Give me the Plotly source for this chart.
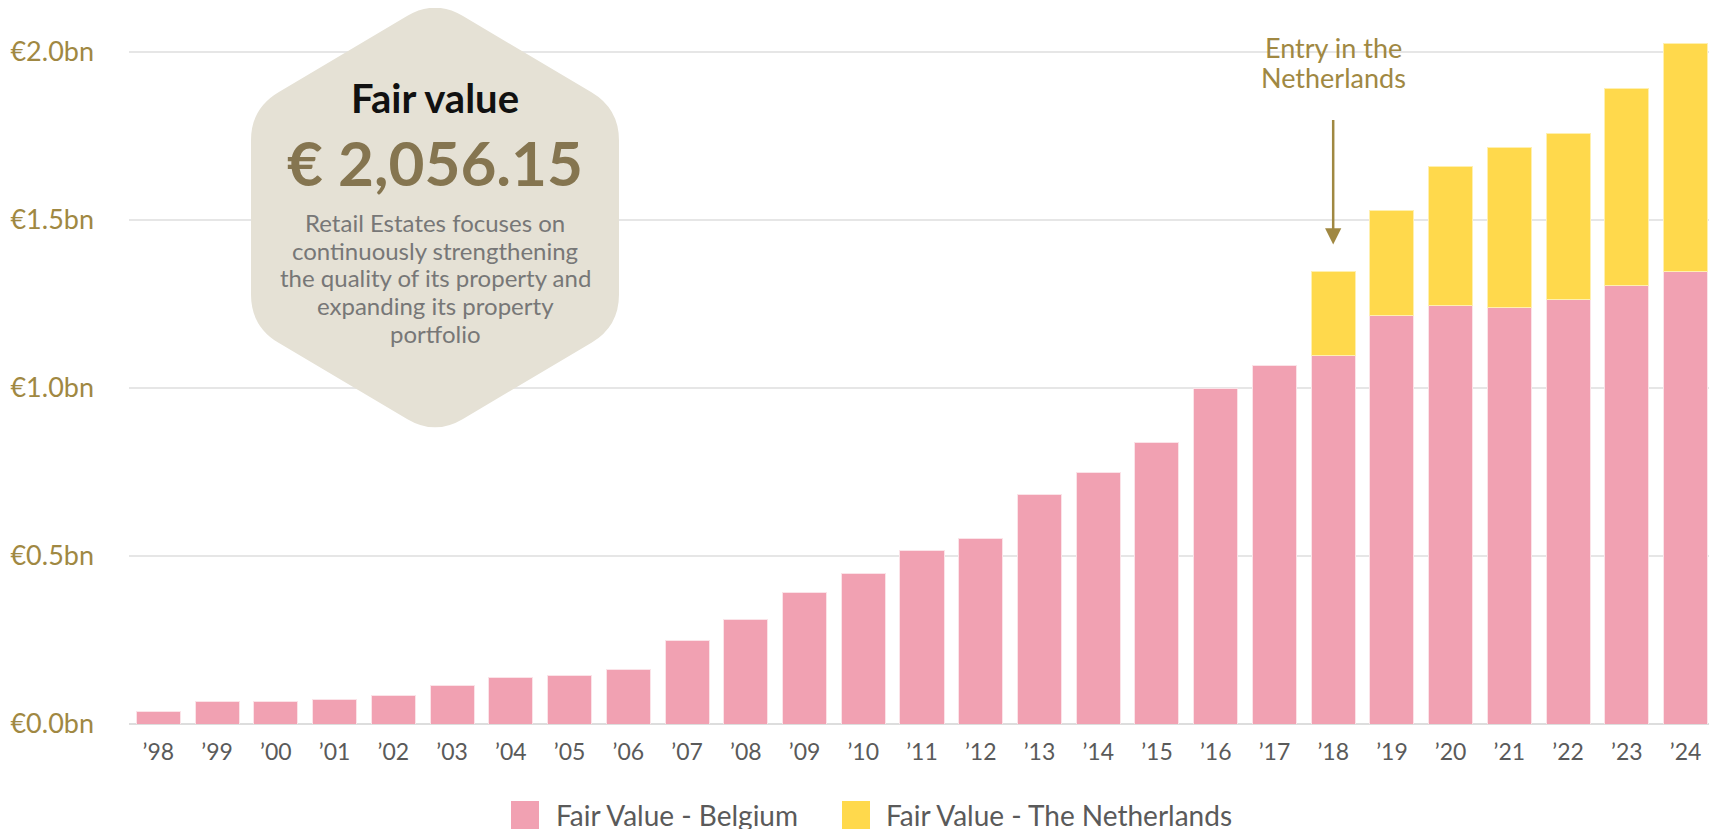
import plotly.graph_objects as go

# data (EUR bn)
years = ["’98", "’99", "’00", "’01", "’02", "’03", "’04", "’05", "’06", "’07",
         "’08", "’09", "’10", "’11", "’12", "’13", "’14", "’15", "’16", "’17",
         "’18", "’19", "’20", "’21", "’22", "’23", "’24"]
belgium = [0.037, 0.067, 0.067, 0.074, 0.085, 0.114, 0.138, 0.144, 0.163, 0.247,
           0.312, 0.390, 0.449, 0.516, 0.551, 0.683, 0.748, 0.837, 0.998, 1.066,
           1.096, 1.215, 1.245, 1.239, 1.263, 1.304, 1.346]
netherlands = [None] * 20 + [0.250, 0.311, 0.412, 0.477, 0.494, 0.585, 0.679]
y_ticks = [0.0, 0.5, 1.0, 1.5, 2.0]
series_names = ["Fair Value - Belgium", "Fair Value - The Netherlands"]

blurb = ["Retail Estates focuses on", "continuously strengthening",
         "the quality of its property and", "expanding its property", "portfolio"]
entry_text = ["Entry in the", "Netherlands"]

PINK = "#F1A1B2"
YELLOW = "#FFD94C"
GOLD = "#A08842"
GREY = "#5a5a5a"
FONT = "Lato"

# figure geometry (pixels); page positions are offset by the 8px body margin
W, H = 1717, 829
L, R, T, B = 121, 10, 10, 113
PW, PH = W - L - R, H - T - B
OFF = 8


def px_x(x):
    return (x - OFF - L) / PW


def px_y(y):
    return (H - B - (y - OFF)) / PH


def rounded_hexagon(cx, cy, hw, rad, corner):
    """SVG path (paper coords) for a pointy-top hexagon with rounded corners."""
    pts = [(cx, cy - rad), (cx + hw, cy - rad / 2), (cx + hw, cy + rad / 2),
           (cx, cy + rad), (cx - hw, cy + rad / 2), (cx - hw, cy - rad / 2)]
    n = len(pts)
    segs = []
    for i in range(n):
        px, py = pts[i]
        ax, ay = pts[i - 1]
        bx, by = pts[(i + 1) % n]
        da = ((ax - px) ** 2 + (ay - py) ** 2) ** 0.5
        db = ((bx - px) ** 2 + (by - py) ** 2) ** 0.5
        p1 = (px + (ax - px) * corner / da, py + (ay - py) * corner / da)
        p2 = (px + (bx - px) * corner / db, py + (by - py) * corner / db)
        cmd = "M" if i == 0 else "L"
        segs.append(f"{cmd}{px_x(p1[0]):.5f},{px_y(p1[1]):.5f}")
        segs.append(f"Q{px_x(px):.5f},{px_y(py):.5f} {px_x(p2[0]):.5f},{px_y(p2[1]):.5f}")
    return " ".join(segs) + " Z"


def paper_text(x, y, text, size, color, anchor="center"):
    fig.add_annotation(xref="paper", yref="paper", x=px_x(x), y=px_y(y),
                       xanchor=anchor, yanchor="middle", text=text,
                       showarrow=False, font=dict(family=FONT, size=size, color=color))


fig = go.Figure()
fig.add_trace(go.Bar(x=years, y=belgium, name=series_names[0], showlegend=False,
                     marker=dict(color=PINK, line=dict(color="#fbe3e8", width=1))))
fig.add_trace(go.Bar(x=years, y=netherlands, name=series_names[1], showlegend=False,
                     marker=dict(color=YELLOW, line=dict(color="#fff0b0", width=1))))

# info hexagon
hex_cx, hex_cy = 435, 217.5
fig.add_shape(type="path", xref="paper", yref="paper", layer="above",
              path=rounded_hexagon(hex_cx, hex_cy, 184, 218, 32),
              fillcolor="#E5E1D5", line=dict(width=0))

paper_text(hex_cx, 98, "<b>Fair value</b>", 40, "#111111")
paper_text(hex_cx, 162, "<b>€ 2,056.15</b>", 62, "#857550")
for i, line in enumerate(blurb):
    paper_text(hex_cx, 223 + i * 27.5, line, 24, "#777777")

# entry annotation
entry = years.index("’18")
top_18 = belgium[entry] + netherlands[entry]
fig.add_annotation(x=years[entry], y=top_18 + 0.08, ax=0, ay=-126,
                   text="", showarrow=True, arrowhead=2, arrowsize=1.3,
                   arrowwidth=2.5, arrowcolor=GOLD, standoff=0)
for i, line in enumerate(entry_text):
    fig.add_annotation(x=years[entry], yref="paper", y=px_y(47 + i * 31),
                       yanchor="middle", text=line, showarrow=False,
                       font=dict(family=FONT, size=27, color=GOLD))

# legend drawn as swatches + labels
for (x0, tx), name, color in zip([(511, 554), (842, 884)], series_names, [PINK, YELLOW]):
    fig.add_shape(type="rect", xref="paper", yref="paper",
                  x0=px_x(x0), x1=px_x(x0 + 28), y0=px_y(801), y1=px_y(829),
                  fillcolor=color, line=dict(width=0))
    paper_text(tx, 815, name, 28, GREY, anchor="left")

fig.update_layout(
    barmode="stack",
    bargap=0.25,
    width=W, height=H,
    margin=dict(l=L, r=R, t=T, b=B, autoexpand=False),
    paper_bgcolor="white",
    plot_bgcolor="white",
    font=dict(family=FONT, color=GREY),
    showlegend=False,
)
fig.update_xaxes(showgrid=False, showline=False, ticks="", automargin=False,
                 ticklabelstandoff=12,
                 tickfont=dict(family=FONT, size=23, color=GREY))
fig.update_yaxes(range=[0, 2.1], tickvals=y_ticks, automargin=False,
                 ticktext=[f"€{v:.1f}bn" for v in y_ticks],
                 tickfont=dict(family=FONT, size=27, color=GOLD),
                 ticklabelstandoff=34,
                 showgrid=True, gridcolor="#E6E6E6", gridwidth=2,
                 zeroline=True, zerolinecolor="#DDDDDD", zerolinewidth=2)

fig.write_html("out.html")
